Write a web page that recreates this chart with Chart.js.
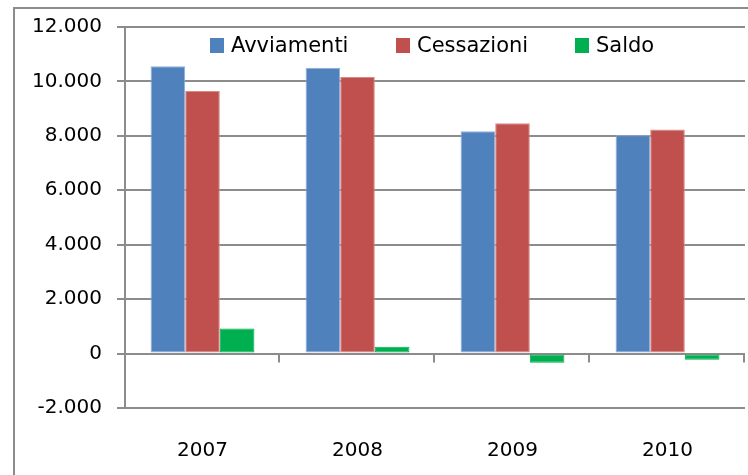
<!DOCTYPE html>
<html>
<head>
<meta charset="utf-8">
<script src="https://cdn.jsdelivr.net/npm/chart.js@4/dist/chart.umd.min.js"></script>
<style>
  html, body { margin: 0; padding: 0; background: #fff; }
  #wrap { position: relative; width: 748px; height: 475px; overflow: hidden; }
  #frame { position: absolute; left: 13px; top: 7px; width: 800px; height: 500px;
           border-left: 2px solid #8c8c8c; border-top: 2px solid #8c8c8c; }
  canvas { position: absolute; left: 0; top: 0; }
  #legend { position: absolute; top: 33px; left: 210px; display: flex;
            font-family: "DejaVu Sans", sans-serif; font-size: 21px; color: #000; }
  #legend .item { display: flex; align-items: center; }
  #legend .box { width: 14px; height: 15px; margin-right: 7px; }
</style>
</head>
<body>
<div id="wrap">
  <div id="frame"></div>
  <canvas id="chart" width="748" height="475"></canvas>
  <div id="legend"></div>
</div>
<script>
const years = ["2007", "2008", "2009", "2010"];
const avviamenti = [10560, 10500, 8170, 8020];
const cessazioni = [9650, 10160, 8460, 8230];
const saldo = [920, 250, -340, -230];
const seriesNames = ["Avviamenti", "Cessazioni", "Saldo"];
const seriesColors = ["#4f81bd", "#c0504d", "#00b050"];
const edgeColors = ["#8eaedb", "#d98a88", "#00b050"];
const legendWidths = [186, 179, 100];

const fmt = (v) => {
  const s = String(Math.abs(v)).replace(/\B(?=(\d{3})+(?!\d))/g, ".");
  return v < 0 ? "-" + s : s;
};

// tick marks on the zero line between categories
const zeroTicks = {
  id: "zeroTicks",
  afterDraw(chart) {
    const x = chart.scales.x, y = chart.scales.y;
    const ctx = chart.ctx;
    const y0 = y.getPixelForValue(0);
    const n = years.length;
    const step = (x.right - x.left) / n;
    ctx.save();
    ctx.strokeStyle = "#8c8c8c";
    ctx.lineWidth = 2;
    ctx.beginPath();
    for (let i = 1; i <= n; i++) {
      const px = Math.round(x.left + i * step) - 1;
      ctx.moveTo(px, y0);
      ctx.lineTo(px, y0 + 9);
    }
    ctx.stroke();
    ctx.restore();
  }
};

const datasets = [avviamenti, cessazioni, saldo].map((d, i) => ({
  label: seriesNames[i],
  data: d,
  backgroundColor: seriesColors[i],
  borderColor: edgeColors[i],
  borderWidth: 1,
  borderSkipped: false,
  categoryPercentage: 0.67,
  barPercentage: 1.0
}));

const ctx = document.getElementById("chart").getContext("2d");
const chart = new Chart(ctx, {
  type: "bar",
  data: { labels: years, datasets: datasets },
  options: {
    responsive: false,
    animation: false,
    layout: { padding: { left: 0, top: 22, right: 3, bottom: 0 } },
    plugins: { legend: { display: false }, tooltip: { enabled: false } },
    scales: {
      x: {
        grid: { display: false },
        border: { display: false },
        ticks: {
          color: "#000",
          font: { family: "DejaVu Sans", size: 20 },
          padding: 23
        },
        afterFit: (s) => { s.height = 67; }
      },
      y: {
        min: -2000,
        max: 12000,
        ticks: {
          stepSize: 2000,
          color: "#000",
          font: { family: "DejaVu Sans", size: 20 },
          padding: 15,
          callback: (v) => fmt(v)
        },
        grid: { color: "#8c8c8c", lineWidth: 2, tickLength: 8 },
        border: { display: true, color: "#8c8c8c", width: 2 },
        afterFit: (s) => { s.width = 125; }
      }
    }
  },
  plugins: [zeroTicks]
});

const legend = document.getElementById("legend");
seriesNames.forEach((name, i) => {
  const item = document.createElement("div");
  item.className = "item";
  item.style.width = legendWidths[i] + "px";
  item.innerHTML = `<span class="box" style="background:${seriesColors[i]}"></span><span>${name}</span>`;
  legend.appendChild(item);
});
</script>
</body>
</html>
